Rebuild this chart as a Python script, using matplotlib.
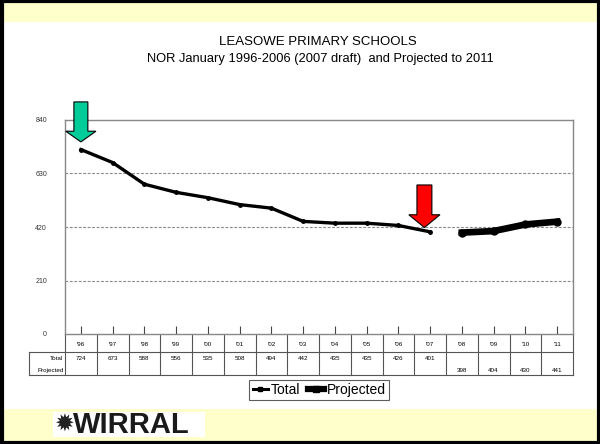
import matplotlib
matplotlib.use("Agg")
import matplotlib.pyplot as plt
from matplotlib.patches import Rectangle, FancyArrow
from matplotlib.lines import Line2D
import matplotlib.transforms as mtransforms

plt.rcParams["font.family"] = ["Liberation Sans", "DejaVu Sans"]

years = ["'96", "'97", "'98", "'99", "'00", "'01", "'02", "'03",
         "'04", "'05", "'06", "'07", "'08", "'09", "'10", "'11"]
total = [724, 673, 588, 556, 535, 508, 494, 442, 435, 435, 426, 401]
projected = [398, 404, 430, 441]
yticks = [0, 210, 420, 630, 840]

W, H = 600, 444
fig = plt.figure(figsize=(6.0, 4.44), dpi=100)
fig.patch.set_facecolor("white")

def fy(py):
    return 1 - py / H

# yellow bands and frame
yellow = "#FFFFCC"
fig.add_artist(Rectangle((0, fy(22)), 1, 22 / H, transform=fig.transFigure,
                         facecolor=yellow, edgecolor="none", zorder=0))
fig.add_artist(Rectangle((0, 0), 1, fy(409), transform=fig.transFigure,
                         facecolor=yellow, edgecolor="none", zorder=0))
fig.add_artist(Rectangle((1.5 / W, 1.5 / H), 1 - 3 / W, 1 - 3 / H, transform=fig.transFigure,
                         facecolor="none", edgecolor="black", lw=3, zorder=10))

# titles
fig.text(318 / W, fy(42), "LEASOWE PRIMARY SCHOOLS", ha="center", va="center", fontsize=9.5)
fig.text(320 / W, fy(59), "NOR January 1996-2006 (2007 draft)  and Projected to 2011",
         ha="center", va="center", fontsize=9.3)

# axes
ax_l, ax_r, ax_t, ax_b = 65, 573, 120, 334
ax = fig.add_axes([ax_l / W, fy(ax_b), (ax_r - ax_l) / W, (ax_b - ax_t) / H])
ax.set_facecolor("white")
n = len(years)
ax.set_xlim(-0.5, n - 0.5)
ax.set_ylim(0, 840)
ax.set_yticks(yticks)
ax.set_yticklabels([str(v) for v in yticks], fontsize=5)
ax.tick_params(axis="y", length=0, pad=13, colors="#333333")
ax.set_xticks(range(n))
ax.set_xticklabels([])
ax.tick_params(axis="x", direction="in", length=6, width=0.8, color="#444444")
for s in ax.spines.values():
    s.set_color("#888888")
    s.set_linewidth(1)
for v in yticks[1:-1]:
    ax.axhline(v, color="#888888", lw=0.8, ls=(0, (2.5, 1.5)), zorder=1)

x_total = list(range(len(total)))
x_proj = list(range(len(total), len(total) + len(projected)))
ax.plot(x_total, total, color="black", lw=2.4, marker="o", ms=2.5, zorder=3)
ax.plot(x_proj, projected, color="black", lw=4.8, marker="o", ms=5, zorder=3)

# arrows
ax.add_patch(FancyArrow(0, 911, 0, -157, width=0.44, head_width=0.95, head_length=42,
                        length_includes_head=True, facecolor="#00CC99", edgecolor="black",
                        lw=0.8, clip_on=False, zorder=5))
ax.add_patch(FancyArrow(10.82, 585, 0, -167, width=0.47, head_width=0.98, head_length=50,
                        length_includes_head=True, facecolor="#FF0000", edgecolor="black",
                        lw=0.8, clip_on=False, zorder=5))

# data table below the axis
trans = mtransforms.blended_transform_factory(ax.transData, fig.transFigure)
tcol = "#555555"
for i in range(n + 1):
    xb = i - 0.5
    ax.add_line(Line2D([xb, xb], [fy(334), fy(375)], transform=trans, color=tcol,
                       lw=0.8, clip_on=False))
x_left = -0.5 - (65 - 29) / 31.75
for py in (352, 375):
    ax.add_line(Line2D([x_left, n - 0.5], [fy(py), fy(py)], transform=trans, color=tcol,
                       lw=0.8, clip_on=False))
ax.add_line(Line2D([x_left, x_left], [fy(352), fy(375)], transform=trans, color=tcol,
                   lw=0.8, clip_on=False))
for i, yr in enumerate(years):
    ax.text(i, fy(344), yr, transform=trans, ha="center", va="center", fontsize=4.5)
for i, v in zip(x_total, total):
    ax.text(i, fy(358), str(v), transform=trans, ha="center", va="center", fontsize=4.5)
for i, v in zip(x_proj, projected):
    ax.text(i, fy(370), str(v), transform=trans, ha="center", va="center", fontsize=4.5)
ax.text(-0.55, fy(358), "Total", transform=trans, ha="right", va="center", fontsize=4.5)
ax.text(-0.55, fy(370), "Projected", transform=trans, ha="right", va="center", fontsize=4.5)

# legend
handles = [Line2D([], [], color="black", lw=2.2, marker="s", ms=2.5),
           Line2D([], [], color="black", lw=4.5, marker="s", ms=4)]
leg = fig.legend(handles, ["Total", "Projected"], loc="center",
                 bbox_to_anchor=(319 / W, fy(390)), ncol=2, fontsize=10,
                 frameon=True, fancybox=False, handlelength=1.1, handletextpad=0.2,
                 columnspacing=0.6, borderpad=0.25, borderaxespad=0)
leg.get_frame().set_edgecolor("#333333")
leg.get_frame().set_linewidth(0.8)

# logo
fig.add_artist(Rectangle((53 / W, fy(437)), 152 / W, 25 / H, transform=fig.transFigure,
                         facecolor="white", edgecolor="none", zorder=1))
fig.text(54 / W, fy(425), "✹", fontsize=17, color="#222222", ha="left", va="center",
         family="DejaVu Sans", zorder=2)
fig.text(73 / W, fy(425), "WIRRAL", fontsize=21, fontweight="bold", color="#1a1a1a",
         ha="left", va="center", zorder=2)

fig.savefig("out.png", dpi=100)
